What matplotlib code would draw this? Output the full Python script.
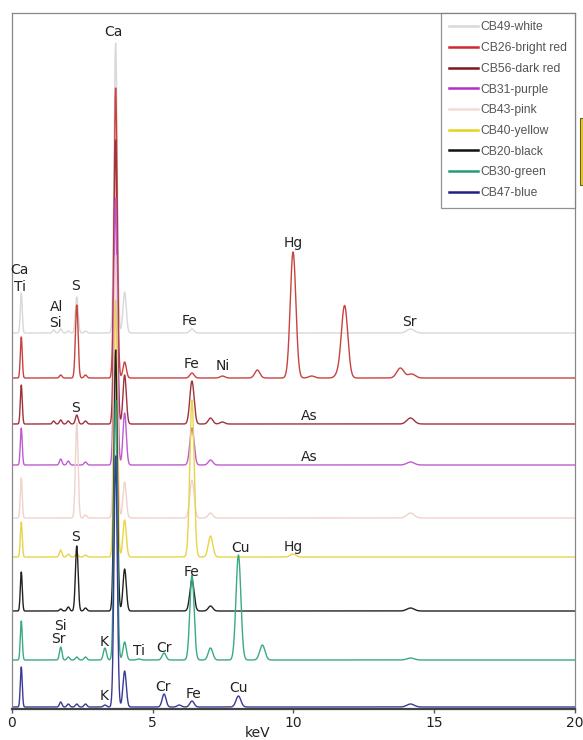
import numpy as np
import matplotlib
matplotlib.use('Agg')
import matplotlib.pyplot as plt
from matplotlib.patches import Rectangle

# ---------------- data ----------------
samples = ['CB49-white', 'CB26-bright red', 'CB56-dark red', 'CB31-purple',
           'CB43-pink', 'CB40-yellow', 'CB20-black', 'CB30-green', 'CB47-blue']
line_colors = ['#d8d8d8', '#c8423f', '#a0323c', '#c05ad2', '#f0d2cc',
               '#e8d448', '#222222', '#3aaa80', '#3a3a98']
legend_colors = ['#d8d8d8', '#d0282c', '#7a1818', '#b030c8', '#f2dcd4',
                 '#e8d020', '#111111', '#20a070', '#202080']
offsets = [376, 331, 285, 244, 191, 152, 98, 49, 2]

# peak energies (keV) and heights (above each trace baseline)
white_E = [0.34, 1.49, 1.74, 2.01, 2.31, 2.62, 3.69, 4.01, 6.40, 14.16]
white_H = [40, 3, 4, 2, 36, 2, 290, 41, 4, 4]
red_E = [0.34, 1.74, 2.31, 2.62, 3.69, 4.01, 6.40, 7.48, 8.72, 9.99, 10.65, 11.60, 11.82, 13.80, 14.20]
red_H = [41, 3, 73, 3, 290, 16, 5, 2, 8, 126, 2, 4, 72, 10, 4]
dkred_E = [0.34, 1.49, 1.74, 2.01, 2.31, 2.62, 3.69, 4.01, 6.40, 7.06, 7.48, 14.16]
dkred_H = [39, 3, 4, 3, 9, 3, 284, 49, 43, 6, 2, 6]
purple_E = [0.34, 1.74, 2.01, 2.62, 3.69, 4.01, 6.40, 7.06, 14.16]
purple_H = [37, 6, 4, 3, 267, 52, 37, 5, 3]
pink_E = [0.34, 2.31, 2.62, 3.69, 4.01, 6.40, 7.06, 14.16]
pink_H = [40, 95, 3, 263, 36, 38, 5, 5]
yellow_E = [0.34, 1.74, 2.01, 2.31, 2.62, 3.69, 4.01, 6.40, 7.06, 9.99]
yellow_H = [35, 7, 3, 3, 2, 257, 37, 157, 21, 3]
black_E = [0.34, 1.74, 2.01, 2.31, 2.62, 3.69, 4.01, 6.40, 7.06, 14.16]
black_H = [39, 2, 4, 65, 3, 261, 42, 31, 5, 3]
green_E = [0.34, 1.74, 2.01, 2.31, 2.62, 3.31, 3.69, 4.01, 4.51, 5.41, 6.40, 7.06, 8.05, 8.90, 14.16]
green_H = [39, 13, 3, 3, 3, 12, 260, 18, 1, 7, 85, 12, 105, 15, 2]
blue_E = [0.34, 1.74, 2.01, 2.31, 2.62, 3.31, 3.69, 4.01, 5.41, 5.95, 6.40, 8.05, 14.16]
blue_H = [40, 5, 3, 3, 3, 2, 251, 36, 13, 2, 6, 11, 3]

peak_E = [white_E, red_E, dkred_E, purple_E, pink_E, yellow_E, black_E, green_E, blue_E]
peak_H = [white_H, red_H, dkred_H, purple_H, pink_H, yellow_H, black_H, green_H, blue_H]

# element labels: text, energy (keV), height
label_txt = ['Ca', 'Ca', 'Ti', 'Al', 'Si', 'S', 'Fe', 'Hg', 'Sr', 'Fe', 'Ni', 'S', 'As',
             'As', 'S', 'Cu', 'Hg', 'Fe', 'Si', 'Sr', 'K', 'Ti', 'Cr', 'K', 'Cr', 'Fe', 'Cu']
label_E = [3.60, 0.29, 0.29, 1.61, 1.54, 2.25, 6.33, 9.99, 14.12, 6.37, 7.51, 2.28, 10.56,
           10.56, 2.28, 8.11, 9.99, 6.40, 1.72, 1.64, 3.28, 4.52, 5.41, 3.28, 5.37, 6.44, 8.04]
label_Y = [677, 439, 422, 402, 386, 423, 388, 466, 387, 345, 343, 301, 293,
           252, 172, 161, 162, 137, 83, 70, 67, 58, 61, 13, 22, 15, 21]

x_ticks = [0, 5, 10, 15, 20]

# ---------------- plot ----------------
W, H = 583, 740
fig = plt.figure(figsize=(W / 100, H / 100), dpi=100)
ax = fig.add_axes([11.7 / W, 1 - 709 / H, (575 - 11.7) / W, (709 - 13) / H])

E = np.linspace(0, 20, 4001)

def spectrum(pe, ph, base):
    y = np.full_like(E, float(base))
    for e0, h in zip(pe, ph):
        s = 0.032 + 0.0068 * e0
        y += h * np.exp(-0.5 * ((E - e0) / s) ** 2)
    return y

handles = []
for name, lc, gc, off, pe, ph in zip(samples, line_colors, legend_colors, offsets, peak_E, peak_H):
    ax.plot(E, spectrum(pe, ph, off), color=lc, lw=1.0)
    h, = ax.plot([], [], color=gc, lw=1.8, label=name)
    handles.append(h)

for t, e, y in zip(label_txt, label_E, label_Y):
    ax.text(e, y, t, ha='center', va='center', fontsize=10, color='#222222',
            family='DejaVu Sans')

ax.set_xlim(0, 20)
ax.set_ylim(0, 696)
ax.set_yticks([])
ax.set_xticks(x_ticks)
ax.set_xticklabels([str(t) for t in x_ticks])
ax.tick_params(axis='x', direction='out', length=3, width=1, colors='#555555',
               labelsize=10, labelcolor='#222222', pad=2)
for side in ['left', 'top', 'right']:
    ax.spines[side].set_color('#888888')
    ax.spines[side].set_linewidth(0.9)
ax.spines['bottom'].set_color('#444444')
ax.spines['bottom'].set_linewidth(1.6)

fig.text(258 / W, 1 - 726 / H, 'keV', ha='center', va='top', fontsize=10, color='#222222')

leg = ax.legend(handles=handles, loc='upper right', bbox_to_anchor=(1.0, 1.0),
                borderaxespad=0, frameon=True, fancybox=False,
                handlelength=2.4, handletextpad=0.2, labelspacing=0.72, borderpad=0.7,
                prop={'family': 'Liberation Sans', 'size': 8.7})
leg.get_frame().set_edgecolor('#777777')
leg.get_frame().set_linewidth(0.9)
for t in leg.get_texts():
    t.set_color('#555555')

fig.patches.append(Rectangle((579.5 / W, 1 - 185 / H), 3 / W, 67 / H, transform=fig.transFigure,
                             facecolor='#e8c830', edgecolor='#6b6020', lw=0.8, figure=fig))

fig.savefig('out.png', dpi=100)
